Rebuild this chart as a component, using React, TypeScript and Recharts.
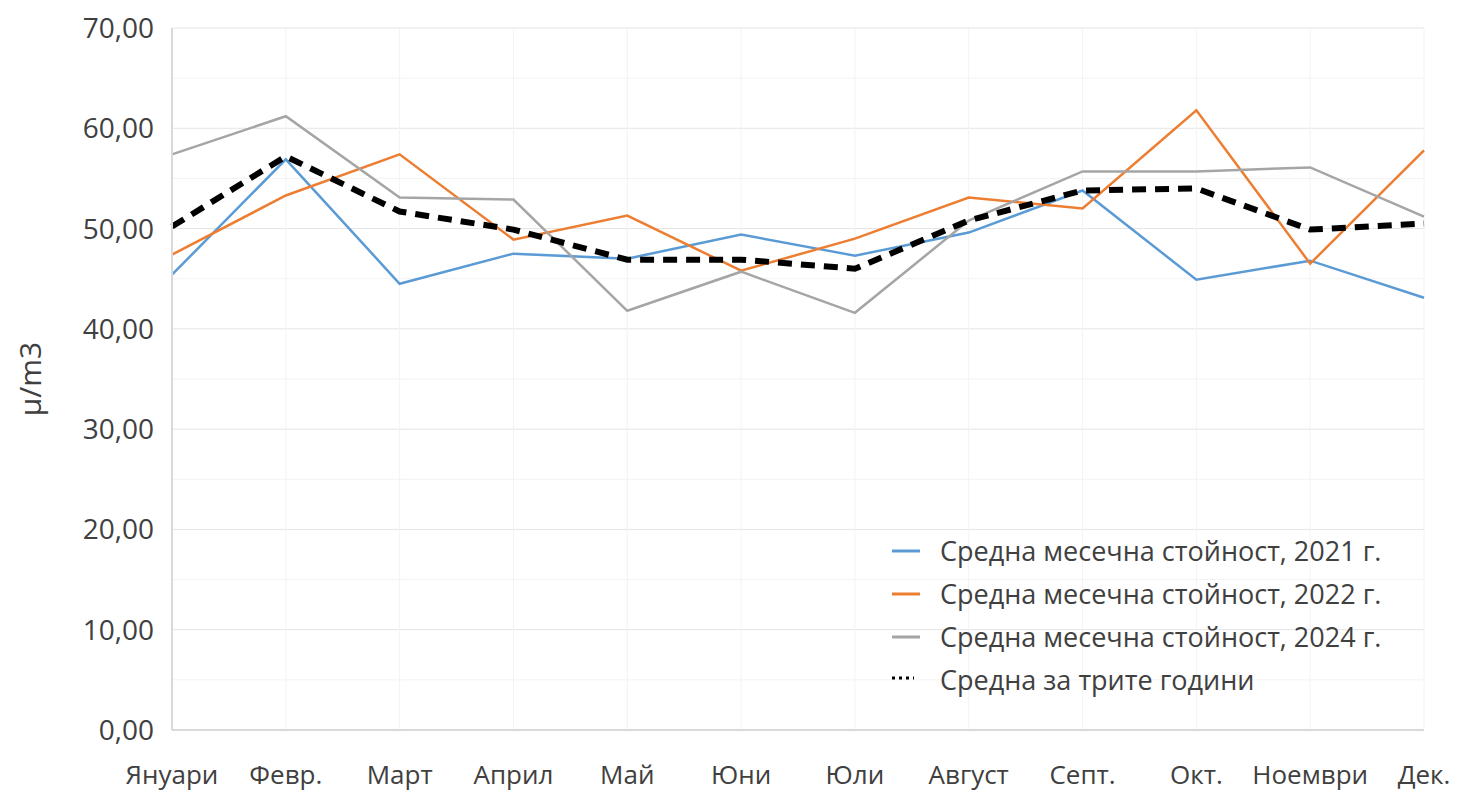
import React from "react";
import { LineChart, Line, XAxis, YAxis, CartesianGrid } from "recharts";

const months = ["Януари", "Февр.", "Март", "Април", "Май", "Юни", "Юли", "Август", "Септ.", "Окт.", "Ноември", "Дек."];
const v2021 = [45.4, 56.9, 44.5, 47.5, 47.0, 49.4, 47.3, 49.6, 53.8, 44.9, 46.8, 43.1];
const v2022 = [47.4, 53.3, 57.4, 48.9, 51.3, 45.8, 49.0, 53.1, 52.0, 61.8, 46.5, 57.8];
const v2024 = [57.4, 61.2, 53.1, 52.9, 41.8, 45.7, 41.6, 50.8, 55.7, 55.7, 56.1, 51.2];
const vAvg = [50.2, 57.2, 51.7, 49.9, 46.9, 46.9, 46.0, 50.8, 53.8, 54.0, 49.9, 50.5];
const yTicks = [0, 10, 20, 30, 40, 50, 60, 70];
const minorTicks = [5, 15, 25, 35, 45, 55, 65];

const seriesNames = [
  "Средна месечна стойност, 2021 г.",
  "Средна месечна стойност, 2022 г.",
  "Средна месечна стойност, 2024 г.",
  "Средна за трите години",
];
const seriesColors = ["#5b9bd5", "#ed7d31", "#a5a5a5", "#000000"];

const data = months.map((m, i) => ({
  month: m,
  a: v2021[i],
  b: v2022[i],
  c: v2024[i],
  avg: vAvg[i],
}));

const FONT = "'Open Sans', Lato, sans-serif";
const TEXT = "#404040";

const fmt = (v: number) => v.toFixed(2).replace(".", ",");

const LegendBox = () => (
  <div style={{ position: "absolute", left: 890, top: 529, fontFamily: FONT, fontSize: 27, color: TEXT, lineHeight: "43px" }}>
    {seriesNames.map((name, i) => (
      <div key={name} style={{ display: "flex", alignItems: "center", height: 43 }}>
        <svg width={50} height={12}>
          {i === 3 ? (
            <line x1={2} x2={24} y1={4} y2={4} stroke={seriesColors[i]} strokeWidth={3} strokeDasharray="3 4" />
          ) : (
            <line x1={2} x2={30} y1={6} y2={6} stroke={seriesColors[i]} strokeWidth={3} />
          )}
        </svg>
        <span>{name}</span>
      </div>
    ))}
  </div>
);

export default function App() {
  return (
    <div style={{ position: "absolute", left: 0, top: 0, width: 1458, height: 796, background: "#fff" }}>
      <LineChart width={1458} height={796} data={data} margin={{ top: 28, right: 34, bottom: 0, left: 0 }}>
        <CartesianGrid stroke="#f3f3f3" horizontalValues={minorTicks} vertical={false} />
        <CartesianGrid stroke="#e4e4e4" horizontalValues={yTicks} vertical={false} />
        <CartesianGrid stroke="#f3f3f3" horizontal={false} />
        <XAxis
          dataKey="month"
          interval={0}
          tickLine={false}
          axisLine={{ stroke: "#d9d9d9", strokeWidth: 2 }}
          tick={{ fill: TEXT, fontSize: 26, fontFamily: FONT }}
          tickMargin={30}
          height={66}
        />
        <YAxis
          domain={[0, 70]}
          ticks={yTicks}
          interval={0}
          tickFormatter={fmt}
          tickLine={false}
          axisLine={{ stroke: "#d9d9d9", strokeWidth: 2 }}
          tick={{ fill: TEXT, fontSize: 28, fontFamily: FONT }}
          tickMargin={12}
          width={172}
          label={{
            value: "μ/m3",
            angle: -90,
            position: "insideLeft",
            offset: 30,
            style: { fill: TEXT, fontSize: 30, fontFamily: FONT, textAnchor: "middle" },
          }}
        />
        <Line type="linear" dataKey="a" name={seriesNames[0]} stroke={seriesColors[0]} strokeWidth={2.5} dot={false} isAnimationActive={false} />
        <Line type="linear" dataKey="b" name={seriesNames[1]} stroke={seriesColors[1]} strokeWidth={2.5} dot={false} isAnimationActive={false} />
        <Line type="linear" dataKey="c" name={seriesNames[2]} stroke={seriesColors[2]} strokeWidth={2.5} dot={false} isAnimationActive={false} />
        <Line type="linear" dataKey="avg" name={seriesNames[3]} stroke={seriesColors[3]} strokeWidth={6} strokeDasharray="14 9" dot={false} isAnimationActive={false} />
      </LineChart>
      <LegendBox />
    </div>
  );
}
